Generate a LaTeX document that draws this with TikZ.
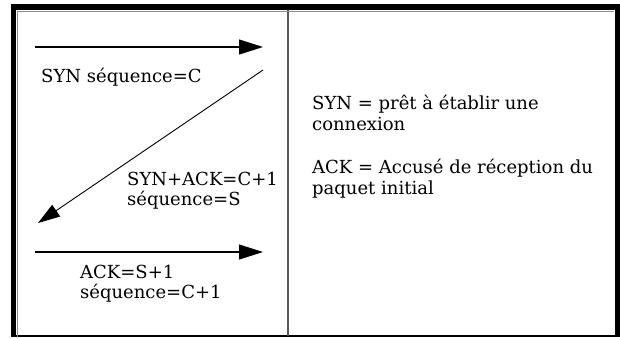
\documentclass[tikz,border=0pt]{standalone}
\usepackage{fontspec}
\setmainfont{DejaVu Serif}
\usetikzlibrary{arrows.meta}
\begin{document}
\begin{tikzpicture}[x=1pt,y=-1pt,
  lbl/.style={anchor=base west, inner sep=0pt, font=\fontsize{18}{22}\selectfont},
  msg/.style={-{Triangle[length=24pt,width=15pt]}, line width=1.1pt},
  frameband/.style={fill=black},
]
\useasboundingbox (0,0) rectangle (620,338);
\fill[white] (0,0) rectangle (620,338);
% frame
\draw[line width=2pt] (12,336) -- (618,336);
\draw[black!65, line width=1.6pt] (288,9) -- (288,336);
\draw[black!45, line width=0.8pt] (17,337) -- (17,11) -- (614,11);
\fill[frameband] (11,4) rectangle (620,10);
\fill[frameband] (11,4) rectangle (16,337);
\fill[frameband] (615,4) rectangle (620,337);
% arrows
\coordinate (a1s) at (35,47);  \coordinate (a1e) at (263,47);
\coordinate (a2s) at (263,70); \coordinate (a2e) at (38,223);
\coordinate (a3s) at (35,252); \coordinate (a3e) at (263,252);
\draw[msg] (a1s) -- (a1e);
\draw[-{Triangle[length=22pt,width=14pt]}, line width=0.9pt] (a2s) -- (a2e);
\draw[msg] (a3s) -- (a3e);
% labels
\node[lbl] (t1) at (41,82) {SYN séquence=C};
\node[lbl] (t2) at (127,185) {SYN+ACK=C+1};
\node[lbl] (t3) at (127,205) {séquence=S};
\node[lbl] (t4) at (80,278) {ACK=S+1};
\node[lbl] (t5) at (80,298) {séquence=C+1};
\node[lbl] (r1) at (312,109) {SYN = prêt à établir une};
\node[lbl] (r2) at (312,130) {connexion};
\node[lbl] (r3) at (312,173) {ACK = Accusé de réception du};
\node[lbl] (r4) at (312,194) {paquet initial};
\end{tikzpicture}
\end{document}
